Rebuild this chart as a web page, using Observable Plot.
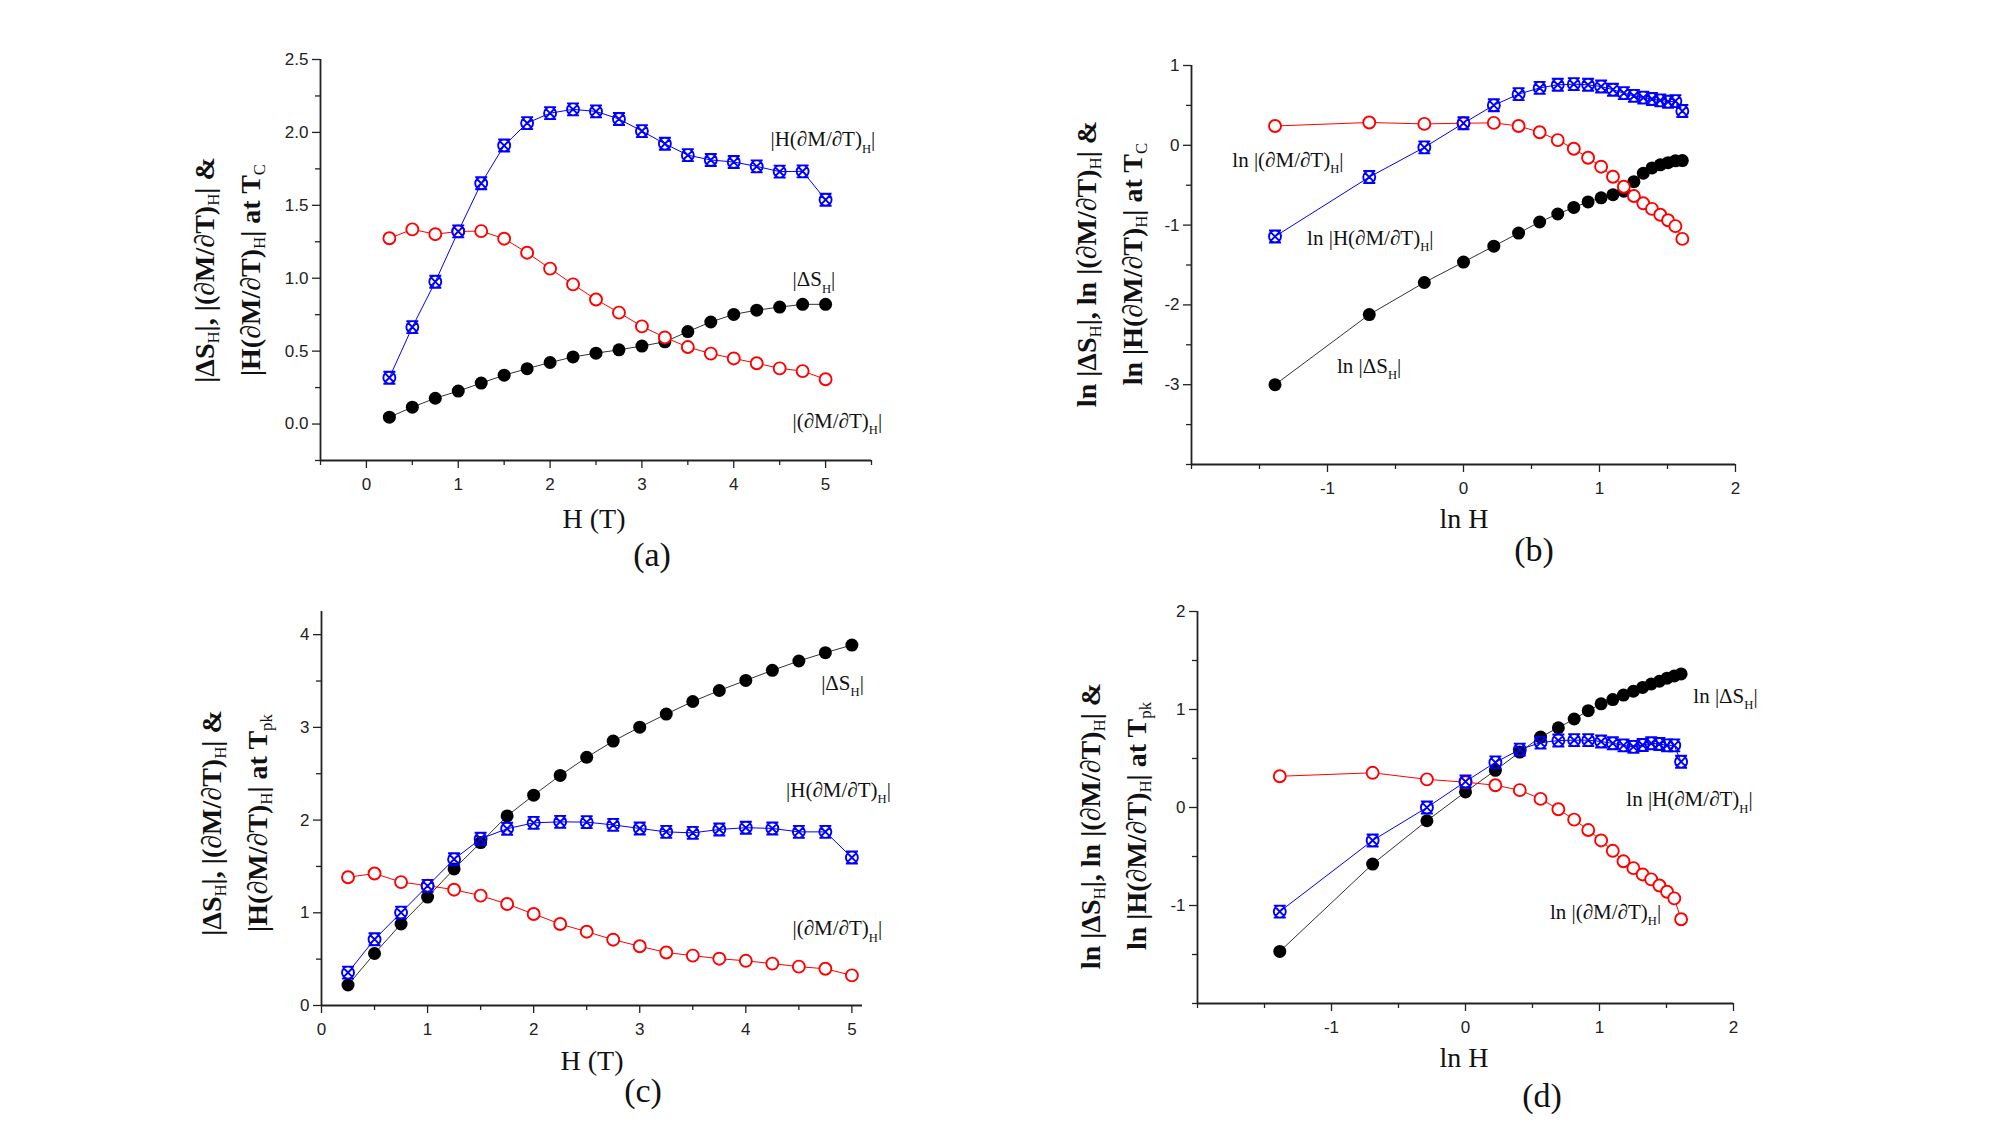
<!DOCTYPE html>
<html><head><meta charset="utf-8">
<script src="https://cdn.jsdelivr.net/npm/d3@7"></script>
<script src="https://cdn.jsdelivr.net/npm/@observablehq/plot@0.6"></script>
<style>
body{margin:0;background:#fff;}
#fig{position:relative;width:2000px;height:1125px;background:#fff;overflow:hidden;font-family:"Liberation Serif","Times New Roman",serif;color:#111;}
.panel{position:absolute;}
.xt{position:absolute;font-size:28px;transform:translate(-50%,-50%);white-space:nowrap;}
.tag{position:absolute;font-size:34px;transform:translate(-50%,-50%);white-space:nowrap;}
.yt{position:absolute;font-size:28px;font-weight:bold;line-height:46px;transform:translate(-50%,-50%) rotate(-90deg);white-space:nowrap;text-align:center;}
sub{font-size:60%;vertical-align:-0.3em;line-height:0;font-weight:normal;}
</style></head><body><div id="fig"></div>
<script>
// ---------------- data ----------------
const H = [0.25, 0.5, 0.75, 1.0, 1.25, 1.5, 1.75, 2.0, 2.25, 2.5, 2.75, 3.0, 3.25, 3.5, 3.75, 4.0, 4.25, 4.5, 4.75, 5.0];
const lnH = [-1.386, -0.693, -0.288, 0, 0.223, 0.405, 0.560, 0.693, 0.811, 0.916, 1.012, 1.099, 1.179, 1.253, 1.322, 1.386, 1.447, 1.504, 1.558, 1.609];

// (a) at T_C
const aDS    = [0.047, 0.116, 0.177, 0.226, 0.281, 0.335, 0.380, 0.422, 0.460, 0.486, 0.509, 0.535, 0.564, 0.634, 0.700, 0.752, 0.781, 0.802, 0.821, 0.821];
const aDMDT  = [1.274, 1.335, 1.302, 1.321, 1.323, 1.271, 1.175, 1.066, 0.958, 0.854, 0.764, 0.670, 0.594, 0.528, 0.483, 0.450, 0.417, 0.382, 0.363, 0.307];
const aHDMDT = [0.318, 0.665, 0.976, 1.321, 1.651, 1.910, 2.064, 2.132, 2.158, 2.144, 2.092, 2.009, 1.922, 1.844, 1.811, 1.797, 1.767, 1.731, 1.733, 1.538];

// (b) ln, at T_C
const bDS    = [-3.00, -2.121, -1.719, -1.463, -1.264, -1.100, -0.961, -0.861, -0.779, -0.710, -0.658, -0.619, -0.575, -0.456, -0.350, -0.283, -0.245, -0.218, -0.194, -0.192];
const bDMDT  = [0.242, 0.286, 0.268, 0.277, 0.281, 0.242, 0.164, 0.065, -0.043, -0.156, -0.268, -0.394, -0.519, -0.636, -0.727, -0.797, -0.870, -0.939, -1.013, -1.173];
const bHDMDT = [-1.143, -0.398, -0.026, 0.277, 0.502, 0.641, 0.719, 0.758, 0.766, 0.758, 0.736, 0.697, 0.654, 0.619, 0.597, 0.580, 0.563, 0.545, 0.554, 0.429];

// (c) at T_pk
const cDS    = [0.221, 0.561, 0.879, 1.170, 1.473, 1.757, 2.045, 2.269, 2.482, 2.677, 2.852, 3.002, 3.144, 3.279, 3.398, 3.507, 3.615, 3.716, 3.806, 3.888];
const cDMDT  = [1.383, 1.424, 1.331, 1.293, 1.249, 1.185, 1.095, 0.987, 0.879, 0.796, 0.710, 0.639, 0.572, 0.538, 0.505, 0.482, 0.452, 0.419, 0.396, 0.325];
const cHDMDT = [0.355, 0.714, 1.002, 1.290, 1.578, 1.798, 1.907, 1.970, 1.981, 1.978, 1.948, 1.910, 1.873, 1.862, 1.899, 1.918, 1.910, 1.873, 1.873, 1.596];

// (d) ln, at T_pk
const dDS    = [-1.469, -0.577, -0.135, 0.159, 0.379, 0.566, 0.719, 0.814, 0.903, 0.988, 1.058, 1.101, 1.147, 1.186, 1.225, 1.260, 1.288, 1.320, 1.342, 1.363];
const dDMDT  = [0.319, 0.354, 0.287, 0.258, 0.227, 0.177, 0.088, -0.018, -0.124, -0.230, -0.336, -0.442, -0.549, -0.619, -0.683, -0.733, -0.796, -0.860, -0.927, -1.140];
const dHDMDT = [-1.062, -0.336, 0.0, 0.265, 0.460, 0.591, 0.662, 0.683, 0.687, 0.687, 0.673, 0.655, 0.634, 0.619, 0.637, 0.655, 0.648, 0.634, 0.634, 0.467];

// tick values
const ticksA = {xmaj: [0, 1, 2, 3, 4, 5], xmin: [-0.5, 0.5, 1.5, 2.5, 3.5, 4.5, 5.5], ymaj: [0, 0.5, 1, 1.5, 2, 2.5], ymin: [-0.25, 0.25, 0.75, 1.25, 1.75, 2.25]};
const ticksB = {xmaj: [-1, 0, 1, 2], xmin: [-2, -1.5, -0.5, 0.5, 1.5], ymaj: [-3, -2, -1, 0, 1], ymin: [-4, -3.5, -2.5, -1.5, -0.5, 0.5]};
const ticksC = {xmaj: [0, 1, 2, 3, 4, 5], xmin: [0.5, 1.5, 2.5, 3.5, 4.5], ymaj: [0, 1, 2, 3, 4], ymin: [0.5, 1.5, 2.5, 3.5]};
const ticksD = {xmaj: [-1, 0, 1, 2], xmin: [-2, -1.5, -0.5, 0.5, 1.5], ymaj: [-1, 0, 1, 2], ymin: [-2, -1.5, -0.5, 0.5, 1.5]};

// series labels (text, x, y in data units)
const annoA = [{t: "|H(∂M/∂T)_H|", x: 4.40, y: 1.95}, {t: "|ΔS_H|", x: 4.64, y: 0.99}, {t: "|(∂M/∂T)_H|", x: 4.64, y: 0.02}];
const annoB = [{t: "ln |(∂M/∂T)_H|", x: -1.70, y: -0.19}, {t: "ln |H(∂M/∂T)_H|", x: -1.15, y: -1.16}, {t: "ln |ΔS_H|", x: -0.93, y: -2.77}];
const annoC = [{t: "|ΔS_H|", x: 4.71, y: 3.48}, {t: "|H(∂M/∂T)_H|", x: 4.38, y: 2.32}, {t: "|(∂M/∂T)_H|", x: 4.44, y: 0.83}];
const annoD = [{t: "ln |ΔS_H|", x: 1.70, y: 1.14}, {t: "ln |H(∂M/∂T)_H|", x: 1.20, y: 0.08}, {t: "ln |(∂M/∂T)_H|", x: 0.63, y: -1.07}];

// ---------------- drawing ----------------
const fig = document.getElementById("fig");
const AX = "#222";
const crossCircle = {
  draw(ctx, size) {
    const r = Math.sqrt(size / Math.PI);
    const a = r * 0.72;
    ctx.moveTo(r, 0); ctx.arc(0, 0, r, 0, 2 * Math.PI);
    ctx.moveTo(-a, -a); ctx.lineTo(a, a);
    ctx.moveTo(-a, a); ctx.lineTo(a, -a);
    ctx.moveTo(-r, -r); ctx.lineTo(r, -r);
    ctx.moveTo(-r, r); ctx.lineTo(r, r);
  }
};
const hyph = d => String(d);

function subify(svg, fs) {
  d3.select(svg).selectAll("text").each(function () {
    const s = this.textContent;
    if (!s.includes("_")) return;
    const parts = s.split(/_(\w+)/);
    this.textContent = "";
    let shifted = false;
    parts.forEach((p, i) => {
      if (i % 2 === 1) {
        const t = document.createElementNS("http://www.w3.org/2000/svg", "tspan");
        t.setAttribute("font-size", (fs * 0.6).toFixed(1));
        t.setAttribute("dy", (fs * 0.3).toFixed(1));
        t.textContent = p;
        this.appendChild(t);
        shifted = true;
      } else if (p) {
        const t = document.createElementNS("http://www.w3.org/2000/svg", "tspan");
        if (shifted) t.setAttribute("dy", (-fs * 0.3).toFixed(1));
        t.textContent = p;
        this.appendChild(t);
        shifted = false;
      }
    });
  });
}

function panel(cfg) {
  const [L, T, R, B] = cfg.frame;
  const ml = 70, mt = 12, mr = 30, mb = 50;
  const xs = cfg.x, tk = cfg.ticks;
  const mk = vals => xs.map((x, i) => ({x, y: vals[i]}));
  const dS = mk(cfg.ds), dM = mk(cfg.dm), hM = mk(cfg.hm);
  const plot = Plot.plot({
    width: R - L + ml + mr, height: B - T + mt + mb,
    marginLeft: ml, marginTop: mt, marginRight: mr, marginBottom: mb,
    style: {fontFamily: "'Liberation Sans', Arial, sans-serif", fontSize: "17px", color: AX, background: "transparent", overflow: "visible"},
    x: {domain: cfg.xdom},
    y: {domain: cfg.ydom},
    marks: [
      Plot.axisX({ticks: tk.xmin, tickSize: 5, tickFormat: () => "", label: null, stroke: AX, strokeWidth: 1.3}),
      Plot.axisX({ticks: tk.xmaj, tickSize: 8, tickPadding: 9, tickFormat: hyph, label: null, stroke: AX, strokeWidth: 1.3, fontSize: 17}),
      Plot.axisY({ticks: tk.ymin, tickSize: 5, tickFormat: () => "", label: null, stroke: AX, strokeWidth: 1.3}),
      Plot.axisY({ticks: tk.ymaj, tickSize: 8, tickPadding: 4, tickFormat: cfg.yfmt || hyph, label: null, stroke: AX, strokeWidth: 1.3, fontSize: 17}),
      Plot.ruleX([cfg.xdom[0]], {stroke: AX, strokeWidth: 1.8}),
      Plot.ruleY([cfg.ydom[0]], {stroke: AX, strokeWidth: 1.8}),
      Plot.line(dS, {x: "x", y: "y", stroke: "#333", strokeWidth: 1}),
      Plot.line(dM, {x: "x", y: "y", stroke: "#ff0000", strokeWidth: 1}),
      Plot.line(hM, {x: "x", y: "y", stroke: "#0000ff", strokeWidth: 1}),
      Plot.dot(dS, {x: "x", y: "y", r: 6.5, fill: "#000", stroke: "none"}),
      Plot.dot(dM, {x: "x", y: "y", r: 6, fill: "#fff", stroke: "#ff0000", strokeWidth: 1.9}),
      Plot.dot(hM, {x: "x", y: "y", r: 6, fill: "none", stroke: "#0000ff", strokeWidth: 1.9, symbol: crossCircle}),
      Plot.text(cfg.anno, {x: "x", y: "y", text: "t", textAnchor: "start", fontFamily: "'Liberation Serif', 'Times New Roman', serif", fontSize: 21, fill: "#111"})
    ]
  });
  subify(plot, 21);
  plot.classList.add("panel");
  plot.style.left = (L - ml) + "px";
  plot.style.top = (T - mt) + "px";
  fig.appendChild(plot);
}

function html(cls, x, y, s) {
  const d = document.createElement("div");
  d.className = cls;
  d.style.left = x + "px";
  d.style.top = y + "px";
  d.innerHTML = s;
  fig.appendChild(d);
}

panel({frame: [320, 59, 871, 460], xdom: [-0.5, 5.5], ydom: [-0.25, 2.5], ticks: ticksA, yfmt: d3.format(".1f"), x: H, ds: aDS, dm: aDMDT, hm: aHDMDT, anno: annoA});
panel({frame: [1191, 65, 1735, 464], xdom: [-2, 2], ydom: [-4, 1], ticks: ticksB, x: lnH, ds: bDS, dm: bDMDT, hm: bHDMDT, anno: annoB});
panel({frame: [321, 611, 862, 1005], xdom: [0, 5.1], ydom: [0, 4.25], ticks: ticksC, x: H, ds: cDS, dm: cDMDT, hm: cHDMDT, anno: annoC});
panel({frame: [1197, 611, 1733, 1003], xdom: [-2, 2], ydom: [-2, 2], ticks: ticksD, x: lnH, ds: dDS, dm: dDMDT, hm: dHDMDT, anno: annoD});

// axis titles and panel tags
html("xt", 594, 519, "H (T)");
html("tag", 652, 555, "(a)");
html("xt", 1464, 519, "ln H");
html("tag", 1534, 550, "(b)");
html("xt", 592, 1061, "H (T)");
html("tag", 643, 1091, "(c)");
html("xt", 1464, 1058, "ln H");
html("tag", 1542, 1096, "(d)");

html("yt", 228, 270, "|ΔS<sub>H</sub>|, |(∂M/∂T)<sub>H</sub>| &amp;<br>|H(∂M/∂T)<sub>H</sub>| at T<sub>C</sub>");
html("yt", 1110, 264, "ln |ΔS<sub>H</sub>|, ln |(∂M/∂T)<sub>H</sub>| &amp;<br>ln |H(∂M/∂T)<sub>H</sub>| at T<sub>C</sub>");
html("yt", 235, 823, "|ΔS<sub>H</sub>|, |(∂M/∂T)<sub>H</sub>| &amp;<br>|H(∂M/∂T)<sub>H</sub>| at T<sub>pk</sub>");
html("yt", 1114, 826, "ln |ΔS<sub>H</sub>|, ln |(∂M/∂T)<sub>H</sub>| &amp;<br>ln |H(∂M/∂T)<sub>H</sub>| at T<sub>pk</sub>");
</script></body></html>
